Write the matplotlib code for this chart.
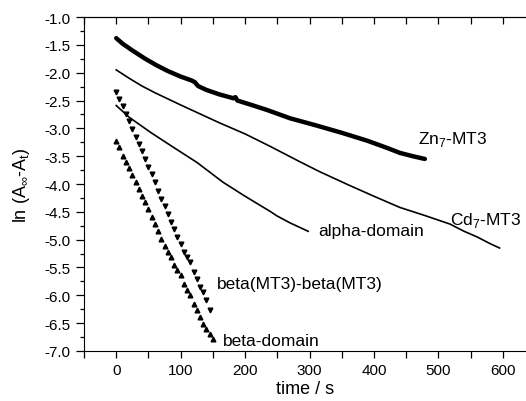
import matplotlib
matplotlib.use("Agg")
import matplotlib.pyplot as plt
from matplotlib.ticker import MultipleLocator, FormatStrFormatter

plt.rcParams['font.family'] = ['Liberation Sans', 'DejaVu Sans']
plt.rcParams['axes.unicode_minus'] = False
plt.rcParams['mathtext.fontset'] = 'custom'
plt.rcParams['mathtext.rm'] = 'Liberation Sans'

# Zn7-MT3 (thick trace)
zn_t = [0, 10, 25, 45, 63, 80, 100, 117, 122, 127, 140, 160, 182, 185, 188,
        210, 234, 270, 311, 350, 389, 420, 440, 460, 479]
zn_y = [-1.38, -1.48, -1.60, -1.75, -1.87, -1.97, -2.07, -2.14, -2.17, -2.24,
        -2.31, -2.39, -2.46, -2.44, -2.50, -2.58, -2.67, -2.82, -2.95, -3.08,
        -3.22, -3.35, -3.44, -3.50, -3.55]

# Cd7-MT3
cd_t = [0, 20, 40, 60, 80, 100, 130, 160, 200, 240, 285, 316, 363, 400, 440,
        480, 518, 540, 560, 580, 595]
cd_y = [-1.95, -2.10, -2.24, -2.36, -2.47, -2.58, -2.74, -2.90, -3.10, -3.33,
        -3.60, -3.78, -4.03, -4.22, -4.42, -4.57, -4.72, -4.85, -4.95, -5.07,
        -5.15]

# alpha-domain
al_t = [0, 20, 53, 90, 125, 166, 200, 240, 249, 270, 298]
al_y = [-2.59, -2.80, -3.07, -3.35, -3.61, -3.97, -4.22, -4.50, -4.57, -4.70, -4.85]

# beta(MT3)-beta(MT3), down triangles every 5 s
bb_t = list(range(0, 150, 5))
bb_y = [-2.35, -2.48, -2.59, -2.74, -2.86, -3.01, -3.16, -3.28, -3.40, -3.55,
        -3.70, -3.82, -3.97, -4.12, -4.27, -4.39, -4.54, -4.69, -4.81, -4.96,
        -5.08, -5.22, -5.31, -5.40, -5.58, -5.70, -5.85, -5.94, -6.09, -6.27]

# beta-domain, up triangles every 5 s
bd_t = list(range(0, 155, 5))
bd_y = [-3.22, -3.34, -3.49, -3.61, -3.72, -3.84, -3.97, -4.09, -4.21, -4.33,
        -4.45, -4.60, -4.72, -4.84, -4.99, -5.11, -5.22, -5.31, -5.46, -5.55,
        -5.64, -5.79, -5.91, -6.00, -6.15, -6.27, -6.39, -6.51, -6.60, -6.69,
        -6.78]

fig = plt.figure(figsize=(5.26, 4.02), dpi=100)
ax = fig.add_axes([0.1597, 0.1244, 0.8403, 0.8308])

ax.plot(zn_t, zn_y, color='black', lw=3.2, solid_capstyle='round')
ax.plot(cd_t, cd_y, color='black', lw=1.2)
ax.plot(al_t, al_y, color='black', lw=1.2)
ax.plot(bb_t, bb_y, 'v', color='black', ms=3.4, ls='none')
ax.plot(bd_t, bd_y, '^', color='black', ms=3.4, ls='none')

fs = 12.5
ax.text(468, -3.19, r'Zn$_7$-MT3', fontsize=fs, va='center')
ax.text(518, -4.63, r'Cd$_7$-MT3', fontsize=fs, va='center')
ax.text(313, -4.84, 'alpha-domain', fontsize=fs, va='center')
ax.text(157, -5.78, 'beta(MT3)-beta(MT3)', fontsize=fs, va='center')
ax.text(166, -6.82, 'beta-domain', fontsize=fs, va='center')

ax.set_xlim(-50, 636)
ax.set_ylim(-7.0, -1.0)
ax.xaxis.set_major_locator(MultipleLocator(100))
ax.xaxis.set_minor_locator(MultipleLocator(50))
ax.yaxis.set_major_locator(MultipleLocator(0.5))
ax.yaxis.set_minor_locator(MultipleLocator(0.25))
ax.yaxis.set_major_formatter(FormatStrFormatter('%.1f'))

ax.spines['right'].set_visible(False)
ax.tick_params(axis='x', which='both', direction='out', labelsize=11, top=False,
               length=5, width=0.9)
ax.tick_params(axis='y', which='major', direction='out', length=6, width=0.9, labelsize=11)
ax.tick_params(axis='y', which='minor', direction='out', length=3, width=0.9)

# inward ticks along the top spine
top = ax.secondary_xaxis('top')
top.xaxis.set_major_locator(MultipleLocator(50))
top.tick_params(direction='in', length=5, width=0.9, labeltop=False)

ax.set_xlabel('time / s', fontsize=13, labelpad=2)
ax.set_ylabel(r'ln (A$_\infty$-A$_\mathrm{t}$)', fontsize=13, labelpad=9)

fig.savefig('out.png', dpi=100)
